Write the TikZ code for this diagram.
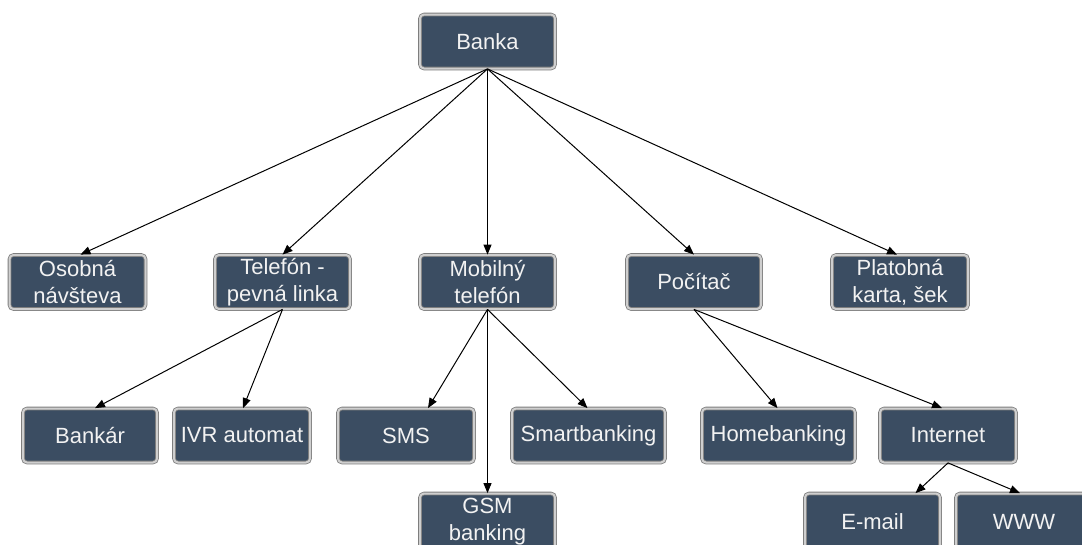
\documentclass[tikz,border=0pt]{standalone}
\usepackage{fontspec}
\setmainfont{Liberation Sans}
\usetikzlibrary{arrows.meta}
\definecolor{boxfill}{HTML}{3B4D62}
\definecolor{boxedge}{HTML}{7E7E7E}
\definecolor{boxbevel}{HTML}{CFCFCF}
\definecolor{boxtext}{HTML}{F2F2F2}
\tikzset{
  orgbox/.style={rectangle, rounded corners=4pt, fill=boxfill,
    draw=boxedge, double=boxbevel, double distance=2pt, line width=0.8pt,
    text=boxtext, font=\fontsize{22}{27}\selectfont, align=center,
    minimum height=54, inner sep=0pt},
  conn/.style={draw=black, line width=1pt, -{Triangle[length=10pt,width=8pt]}}
}
\begin{document}
\begin{tikzpicture}[x=1pt,y=-1pt]
\useasboundingbox (0,0) rectangle (1082,544);
\clip (0,0) rectangle (1082,544);
% top
\node[orgbox, minimum width=135] (banka) at (487.5,41.5) {Banka};
% row 2
\node[orgbox, minimum width=136] (osob) at (77.5,282) {Osobná\\návšteva};
\node[orgbox, minimum width=135] (tel) at (282.5,282) {Telefón -\\pevná linka};
\node[orgbox, minimum width=135] (mob) at (487.5,282) {Mobilný\\telefón};
\node[orgbox, minimum width=134] (poc) at (694,282) {Počítač};
\node[orgbox, minimum width=136] (plat) at (900,282) {Platobná\\karta, šek};
% row 3
\node[orgbox, minimum width=134] (bankar) at (90,435.5) {Bankár};
\node[orgbox, minimum width=136] (ivr) at (242,435.5) {IVR automat};
\node[orgbox, minimum width=136] (sms) at (406,435.5) {SMS};
\node[orgbox, minimum width=153] (smart) at (588.5,435.5) {Smartbanking};
\node[orgbox, minimum width=153] (home) at (778.5,435.5) {Homebanking};
\node[orgbox, minimum width=136] (inet) at (948,435.5) {Internet};
% row 4
\node[orgbox, minimum width=135, minimum height=56] (gsm) at (487.5,521.5) {GSM\\banking};
\node[orgbox, minimum width=135, minimum height=56] (email) at (872.5,521.5) {E-mail};
\node[orgbox, minimum width=136, minimum height=56] (www) at (1024,521.5) {WWW};
% connectors
\draw[conn] (banka.south) -- ([xshift=3pt]osob.north);
\draw[conn] (banka.south) -- (tel.north);
\draw[conn] (banka.south) -- (mob.north);
\draw[conn] (banka.south) -- (poc.north);
\draw[conn] (banka.south) -- ([xshift=-3pt]plat.north);
\draw[conn] (tel.south) -- ([xshift=5pt]bankar.north);
\draw[conn] (tel.south) -- ([xshift=1pt]ivr.north);
\draw[conn] (mob.south) -- ([xshift=22pt]sms.north);
\draw[conn] (mob.south) -- (gsm.north);
\draw[conn] (mob.south) -- ([xshift=-1pt]smart.north);
\draw[conn] (poc.south) -- ([xshift=-1pt]home.north);
\draw[conn] (poc.south) -- ([xshift=-6pt]inet.north);
\draw[conn] (inet.south) -- ([xshift=43pt]email.north);
\draw[conn] (inet.south) -- ([xshift=-4pt]www.north);
\end{tikzpicture}
\end{document}
